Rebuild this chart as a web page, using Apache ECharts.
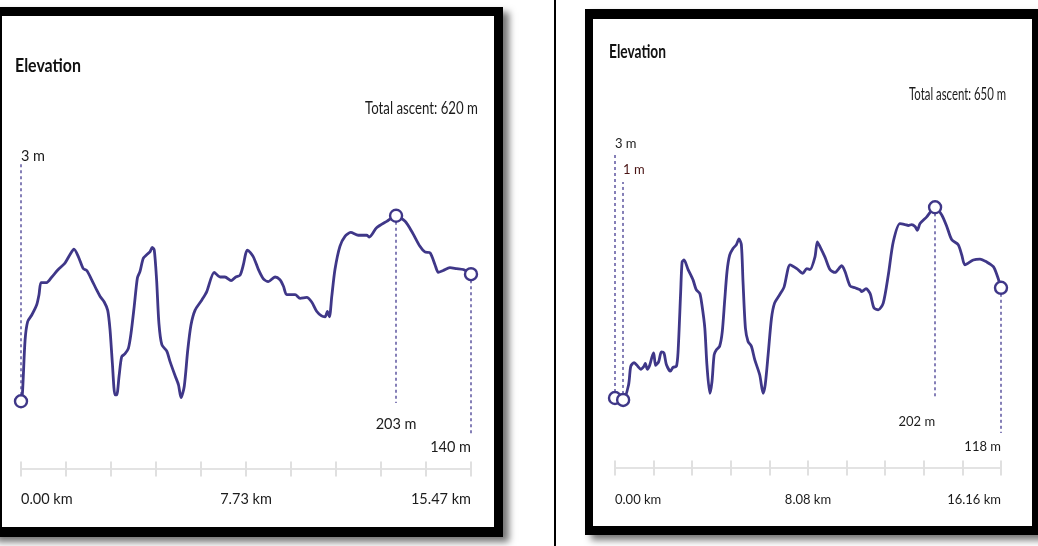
<!DOCTYPE html>
<html><head><meta charset="utf-8">
<script src="https://cdn.jsdelivr.net/npm/echarts@6/dist/echarts.min.js"></script>
<style>html,body{margin:0;padding:0;background:#fff}#c{width:1038px;height:546px}</style>
</head><body><div id="c"></div>
<script>
// ---------- data ----------
const leftDist = [0,0.05,0.14,0.23,0.37,0.54,0.62,0.69,0.88,1.06,
  1.28,1.51,1.68,1.82,1.97,2.14,2.26,2.43,2.60,2.72,
  2.86,2.98,3.06,3.14,3.23,3.29,3.37,3.46,3.57,3.69,
  3.78,3.89,4.00,4.09,4.20,4.32,4.43,4.51,4.58,4.66,
  4.74,4.84,5.01,5.12,5.29,5.41,5.50,5.61,5.73,5.84,
  5.98,6.21,6.38,6.64,6.84,7.01,7.22,7.38,7.53,7.64,
  7.72,7.78,7.98,8.16,8.33,8.50,8.73,8.90,9.02,9.13,
  9.42,9.59,9.82,9.99,10.16,10.33,10.45,10.53,10.60,10.68,
  10.79,10.96,11.14,11.33,11.59,11.88,11.97,12.22,12.57,12.89,
  13.20,13.43,13.71,13.88,14.06,14.23,14.34,14.51,14.74,14.97,
  15.20,15.465];
const leftElev = [3,12,69,89,96,107,118,131,131,137,
  145,152,161,167,159,146,144,134,123,116,
  110,101,80,44,10,10,30,51,54,60,
  76,105,136,143,157,161,164,169,166,134,
  87,64,57,46,31,21,7,19,58,85,
  101,112,121,142,137,137,133,137,139,150,
  162,166,159,145,135,132,137,134,127,118,
  118,114,115,110,100,95,94,100,94,116,
  145,170,181,185,182,182,180,190,197,203,
  197,186,170,164,163,150,142,144,147,146,
  145,140];
const rightDist = [0,0.34,0.57,0.66,0.80,0.96,1.08,1.21,1.27,1.35,
  1.45,1.55,1.62,1.70,1.83,1.94,2.05,2.15,2.32,2.43,
  2.57,2.64,2.75,2.81,2.89,3.06,3.27,3.40,3.55,3.64,
  3.76,3.85,3.97,4.06,4.15,4.24,4.38,4.49,4.59,4.69,
  4.80,4.94,5.08,5.19,5.29,5.36,5.46,5.57,5.71,5.85,
  6.06,6.20,6.29,6.41,6.55,6.68,6.90,7.08,7.33,7.61,
  7.86,8.03,8.16,8.37,8.47,8.58,8.79,9.00,9.21,9.49,
  9.63,9.84,10.05,10.26,10.33,10.51,10.68,10.84,11.02,11.23,
  11.44,11.65,11.93,12.14,12.28,12.42,12.56,12.66,12.77,13.05,
  13.40,13.68,13.89,14.10,14.37,14.52,14.65,15.00,15.28,15.56,
  15.84,16.01,16.16];
const rightElev = [3,1,17,36,40,36,33,36,39,33,
  37,46,50,37,41,51,50,38,31,35,
  36,51,114,145,147,137,126,116,112,100,
  76,37,8,20,48,53,57,72,104,135,
  152,159,163,169,163,124,76,62,57,43,
  27,8,17,48,86,102,111,119,142,138,
  133,138,137,150,166,161,150,137,134,141,
  135,120,118,116,114,117,112,97,95,102,
  131,166,185,184,183,184,182,178,185,192,
  202,194,182,168,163,152,142,147,148,145,
  140,130,118];
const leftTotalKm = 15.465;
const rightTotalKm = 16.16;
const leftTickLabels = ['0.00 km','7.73 km','15.47 km'];
const rightTickLabels = ['0.00 km','8.08 km','16.16 km'];
const panelTitles = ['Elevation','Elevation'];
const ascentTexts = ['Total ascent: 620 m','Total ascent: 650 m'];

// ---------- style / layout ----------
const LINE = '#3f3788';
const DASH = '#5d56a0';
const TXT = '#1c1c1c';
const FONT = "Lato, 'Noto Sans', sans-serif";

const panels = [
  { dist: leftDist, elev: leftElev, total: leftTotalKm, ticks: leftTickLabels,
    title: panelTitles[0], ascent: ascentTexts[0],
    grid: { left: 21, width: 450, top: 153.6, height: 315.4 },
    fs: 14.5, titleFs: 19.5, titleW: 66, titleX: 15, titleY: 65.5,
    ascFs: 17.5, ascW: 113, ascX: 478, ascY: 108.7, labelMargin: 23,
    ann: {
      start: { to: 260, dx: 0, dy: -7, align: 'left', color: TXT },
      min:   { to: 230, dx: 0, dy: -12, align: 'left', color: '#4a1414' },
      max:   { to: 1.2, dx: 0, dy: 21.5, align: 'center', color: TXT },
      end:   { to: -32.3, dx: 0, dy: 13.5, align: 'right', color: TXT }
    } },
  { dist: rightDist, elev: rightElev, total: rightTotalKm, ticks: rightTickLabels,
    title: panelTitles[1], ascent: ascentTexts[1],
    grid: { left: 615, width: 386, top: 142.1, height: 325.9 },
    fs: 13, titleFs: 19.5, titleW: 57, titleX: 609, titleY: 52.2,
    ascFs: 17.5, ascW: 97, ascX: 1006, ascY: 94.5, labelMargin: 25,
    ann: {
      start: { to: 258.6, dx: 0, dy: -9, align: 'left', color: TXT },
      min:   { to: 228.4, dx: 0, dy: -12.3, align: 'left', color: '#4a1414' },
      max:   { to: 2.0, dx: 0, dy: 22.7, align: 'right', color: TXT },
      end:   { to: -33.5, dx: 0, dy: 13.3, align: 'right', color: TXT }
    } }
];

const measureCtx = document.createElement('canvas').getContext('2d');
function textWidth(text, font) { measureCtx.font = font; return measureCtx.measureText(text).width; }

function annotationList(p) {
  let iMin = 0, iMax = 0;
  p.elev.forEach((v, i) => { if (v < p.elev[iMin]) iMin = i; if (v > p.elev[iMax]) iMax = i; });
  const list = [{ i: 0, kind: 'start' }];
  if (iMin !== 0) list.push({ i: iMin, kind: 'min' });
  list.push({ i: iMax, kind: 'max' });
  list.push({ i: p.elev.length - 1, kind: 'end' });
  return list;
}

const grids = [], xAxes = [], yAxes = [], series = [], graphics = [];

// frames
graphics.push(
  { type: 'rect', z: -20, shape: { x: -10, y: 7, width: 513, height: 530 },
    style: { fill: '#000', shadowBlur: 7, shadowColor: 'rgba(0,0,0,0.55)', shadowOffsetX: 6, shadowOffsetY: 5 } },
  { type: 'rect', z: -19, shape: { x: 2, y: 16, width: 492, height: 511 }, style: { fill: '#fff' } },
  { type: 'rect', z: -20, shape: { x: 554, y: 0, width: 2, height: 546 }, style: { fill: '#000' } },
  { type: 'rect', z: -20, shape: { x: 585, y: 9, width: 470, height: 526 },
    style: { fill: '#000', shadowBlur: 7, shadowColor: 'rgba(0,0,0,0.55)', shadowOffsetX: 6, shadowOffsetY: 5 } },
  { type: 'rect', z: -19, shape: { x: 593, y: 19, width: 439, height: 507 }, style: { fill: '#fff' } }
);

panels.forEach((p, k) => {
  grids.push(Object.assign({ containLabel: false }, p.grid));
  const interval = p.total / 10;
  const tickStyle = { color: '#e0e0e0', width: 2 };
  xAxes.push({
    gridIndex: k, type: 'value', position: 'bottom', min: 0, max: p.total, interval: interval,
    axisLine: { show: true, onZero: false, lineStyle: { color: '#e3e3e3', width: 2 } },
    axisTick: { show: true, length: 7.5, lineStyle: tickStyle },
    splitLine: { show: false },
    axisLabel: {
      show: true, margin: p.labelMargin, fontSize: p.fs, fontFamily: FONT, color: TXT,
      showMinLabel: true, showMaxLabel: true, hideOverlap: false,
      alignMinLabel: 'left', alignMaxLabel: 'right',
      formatter: (v, idx) => idx === 0 ? p.ticks[0] : (idx === 5 ? p.ticks[1] : (idx === 10 ? p.ticks[2] : ''))
    }
  });
  xAxes.push({
    gridIndex: k, type: 'value', position: 'bottom', offset: 0, min: 0, max: p.total, interval: interval,
    axisLine: { show: false, onZero: false },
    axisTick: { show: true, inside: true, length: 7.5, lineStyle: tickStyle },
    splitLine: { show: false }, axisLabel: { show: false }
  });
  yAxes.push({ gridIndex: k, type: 'value', min: -70, max: 270, show: false, splitLine: { show: false } });

  const pts = p.dist.map((d, i) => [d, p.elev[i]]);
  series.push({
    type: 'line', xAxisIndex: 2 * k, yAxisIndex: k, data: pts,
    symbol: 'none', showSymbol: false, smooth: 0.25,
    lineStyle: { color: LINE, width: 2.8 }, z: 3, animation: false, silent: true
  });

  const anns = annotationList(p);
  series.push({
    type: 'scatter', xAxisIndex: 2 * k, yAxisIndex: k,
    data: anns.map(a => [p.dist[a.i], p.elev[a.i]]),
    symbol: 'circle', symbolSize: 12,
    itemStyle: { color: '#fff', borderColor: LINE, borderWidth: 2.4, opacity: 1 },
    z: 5, animation: false, silent: true,
    markLine: {
      silent: true, animation: false, symbol: ['none', 'none'], z: 1,
      lineStyle: { type: [3, 3], color: DASH, width: 1.5 },
      label: { show: false },
      data: anns.map(a => [
        { coord: [p.dist[a.i], p.elev[a.i]] },
        { coord: [p.dist[a.i], p.ann[a.kind].to] }
      ])
    },
    markPoint: {
      silent: true, animation: false, symbol: 'rect', symbolSize: 1,
      itemStyle: { color: 'rgba(0,0,0,0)' },
      data: anns.map(a => {
        const c = p.ann[a.kind];
        return {
          coord: [p.dist[a.i], c.to],
          label: {
            show: true, position: 'inside', formatter: p.elev[a.i] + ' m',
            align: c.align, verticalAlign: 'middle', offset: [c.dx, c.dy],
            color: c.color, fontSize: p.fs, fontFamily: FONT
          }
        };
      })
    }
  });

  const titleFont = 'bold ' + p.titleFs + 'px ' + FONT;
  const ascFont = p.ascFs + 'px ' + FONT;
  graphics.push(
    { type: 'text', z: 10, x: p.titleX, y: p.titleY,
      scaleX: p.titleW / textWidth(p.title, titleFont),
      style: { text: p.title, font: titleFont, fill: '#111',
               textAlign: 'left', textVerticalAlign: 'middle', align: 'left', verticalAlign: 'middle' } },
    { type: 'text', z: 10, x: p.ascX, y: p.ascY,
      scaleX: p.ascW / textWidth(p.ascent, ascFont),
      style: { text: p.ascent, font: ascFont, fill: TXT,
               textAlign: 'right', textVerticalAlign: 'middle', align: 'right', verticalAlign: 'middle' } }
  );
});

const chart = echarts.init(document.getElementById('c'), null, { renderer: 'canvas' });
chart.setOption({
  animation: false,
  backgroundColor: '#fff',
  grid: grids, xAxis: xAxes, yAxis: yAxes, series: series,
  graphic: { elements: graphics }
});
</script></body></html>
